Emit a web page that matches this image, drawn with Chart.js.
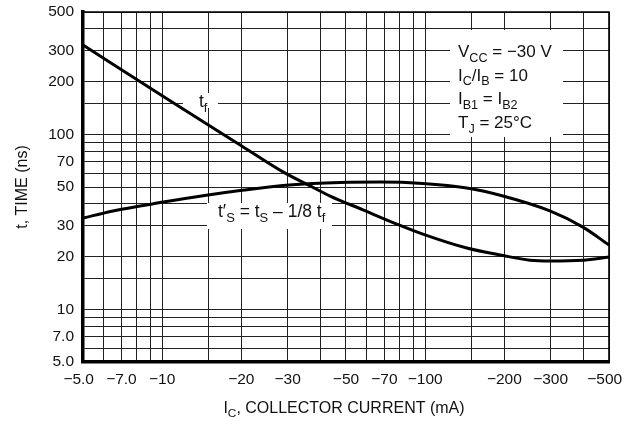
<!DOCTYPE html>
<html>
<head>
<meta charset="utf-8">
<title>Switching Time vs Collector Current</title>
<script src="https://cdn.jsdelivr.net/npm/chart.js@4.4.0/dist/chart.umd.min.js"></script>
<style>
  body { margin: 0; background: #fff; }
  canvas { display: block; }
</style>
</head>
<body>
<canvas id="chart" width="633" height="421"></canvas>
<script>
'use strict';

// collector current magnitude (mA) against fall time t_f (ns)
var tfCurrent = [5, 10, 20, 28.8, 36.5, 43.5, 58, 78, 98, 144, 197.5, 250, 298, 398, 500];
var tfTime = [324, 166, 86.1, 61, 50.7, 44.4, 37, 30.7, 26.9, 22.4, 20.3, 19.1, 18.9, 19.1, 19.9];

// collector current magnitude (mA) against storage time t's (ns)
var tsCurrent = [5, 6.5, 10.1, 14.5, 19.8, 28.8, 37.4, 47.5, 67.3, 98, 144, 197.5, 298, 398, 500];
var tsTime = [33.2, 36.5, 41, 44.7, 47.7, 51, 52.4, 53.1, 53.4, 52.4, 49.3, 44.4, 36.5, 29.5, 23.3];

// grid lines on both log axes
var gridValues = [5, 6, 7, 8, 9, 10, 15, 20, 30, 40, 50, 60, 70, 80, 90, 100, 150, 200, 300, 400, 500];

var xTickValues = [5, 7, 10, 20, 30, 50, 70, 100, 200, 300, 500];
var xTickLabels = ['−5.0  ', '−7.0', '−10', '−20', '−30', '−50', '−70', '−100', '−200', '−300', '−500  '];
var yTickValues = [5, 7, 10, 20, 30, 50, 70, 100, 200, 300, 500];
var yTickLabels = ['5.0', '7.0', '10', '20', '30', '50', '70', '100', '200', '300', '500'];

// text parts: [string, isSubscript]
var conditionLines = [
  [['V', 0], ['CC', 1], [' = −30 V', 0]],
  [['I', 0], ['C', 1], ['/I', 0], ['B', 1], [' = 10', 0]],
  [['I', 0], ['B1', 1], [' = I', 0], ['B2', 1]],
  [['T', 0], ['J', 1], [' = 25°C', 0]]
];
var tfLabel = [['t', 0], ['f', 1]];
var tsLabel = [['t′', 0], ['S', 1], [' = t', 0], ['S', 1], [' – 1/8 t', 0], ['f', 1]];
var xTitle = [['I', 0], ['C', 1], [', COLLECTOR CURRENT (mA)', 0]];

var FONT = '"Liberation Sans", Arial, Helvetica, sans-serif';

function toPoints(xs, ys) {
  var pts = [];
  for (var i = 0; i < xs.length; i++) {
    pts.push({ x: xs[i], y: ys[i] });
  }
  return pts;
}

function useGridTicks(scale) {
  scale.ticks = gridValues.map(function (v) { return { value: v }; });
}

function labelFor(values, labels) {
  return function (value) {
    var i = values.indexOf(value);
    return i < 0 ? '' : labels[i];
  };
}

function drawRich(ctx, parts, x, y, size, align) {
  var widths = [];
  var total = 0;
  for (var i = 0; i < parts.length; i++) {
    ctx.font = (parts[i][1] ? size * 0.74 : size) + 'px ' + FONT;
    var w = ctx.measureText(parts[i][0]).width;
    widths.push(w);
    total += w;
  }
  if (align === 'center') x -= total / 2;
  for (var j = 0; j < parts.length; j++) {
    ctx.font = (parts[j][1] ? size * 0.74 : size) + 'px ' + FONT;
    ctx.fillText(parts[j][0], x, y + (parts[j][1] ? size * 0.27 : 0));
    x += widths[j];
  }
}

var labelsPlugin = {
  id: 'labels',
  beforeDatasetsDraw: function (chart) {
    var ctx = chart.ctx;
    ctx.save();
    ctx.fillStyle = '#fff';
    ctx.fillRect(450, 30, 113, 107);
    ctx.fillRect(183, 93, 35, 15);
    ctx.fillRect(207, 203, 125, 26);
    ctx.restore();
  },
  afterDraw: function (chart) {
    var ctx = chart.ctx;
    var area = chart.chartArea;
    ctx.save();

    // plain frame on the top and right edges
    ctx.strokeStyle = '#000';
    ctx.lineWidth = 1.6;
    ctx.beginPath();
    ctx.moveTo(area.left, area.top);
    ctx.lineTo(area.right, area.top);
    ctx.lineTo(area.right, area.bottom);
    ctx.stroke();

    ctx.fillStyle = '#111';
    ctx.textBaseline = 'alphabetic';
    ctx.textAlign = 'left';
    for (var i = 0; i < conditionLines.length; i++) {
      drawRich(ctx, conditionLines[i], 458, 57 + i * 23.7, 17, 'left');
    }
    drawRich(ctx, tfLabel, 199, 107, 17.5, 'left');
    drawRich(ctx, tsLabel, 218, 217, 17.5, 'left');
    drawRich(ctx, xTitle, (area.left + area.right) / 2 - 2, 413, 16, 'center');
    ctx.restore();
  }
};

var ctx = document.getElementById('chart').getContext('2d');

var chart = new Chart(ctx, {
  type: 'line',
  data: {
    datasets: [{
      label: 'tf',
      data: toPoints(tfCurrent, tfTime),
      borderColor: '#000',
      borderWidth: 3,
      pointRadius: 0,
      cubicInterpolationMode: 'monotone',
      fill: false
    }, {
      label: "t's",
      data: toPoints(tsCurrent, tsTime),
      borderColor: '#000',
      borderWidth: 3,
      pointRadius: 0,
      cubicInterpolationMode: 'monotone',
      fill: false
    }]
  },
  options: {
    responsive: false,
    animation: false,
    events: [],
    layout: { padding: { top: 12, right: 24, bottom: 0, left: 0 } },
    plugins: {
      legend: { display: false },
      tooltip: { enabled: false }
    },
    scales: {
      x: {
        type: 'logarithmic',
        min: 5,
        max: 500,
        afterBuildTicks: useGridTicks,
        afterFit: function (scale) {
          scale.height = 59;
          scale.paddingLeft = 0;
          scale.paddingRight = 0;
        },
        grid: { color: '#222', lineWidth: 1, drawTicks: false },
        border: { color: '#000', width: 3.5 },
        ticks: {
          autoSkip: false,
          maxRotation: 0,
          padding: 8,
          color: '#111',
          font: { family: FONT, size: 15.5 },
          callback: labelFor(xTickValues, xTickLabels)
        }
      },
      y: {
        type: 'logarithmic',
        min: 5,
        max: 500,
        afterBuildTicks: useGridTicks,
        afterFit: function (scale) {
          scale.width = 83;
          scale.paddingTop = 0;
          scale.paddingBottom = 0;
        },
        grid: { color: '#222', lineWidth: 1, drawTicks: false },
        border: { color: '#000', width: 3.5 },
        ticks: {
          autoSkip: false,
          padding: 9,
          color: '#111',
          font: { family: FONT, size: 15.5 },
          callback: labelFor(yTickValues, yTickLabels)
        },
        title: {
          display: true,
          text: 't, TIME (ns)',
          color: '#111',
          font: { family: FONT, size: 16 },
          padding: { top: 13, bottom: 0 }
        }
      }
    }
  },
  plugins: [labelsPlugin]
});
</script>
</body>
</html>
